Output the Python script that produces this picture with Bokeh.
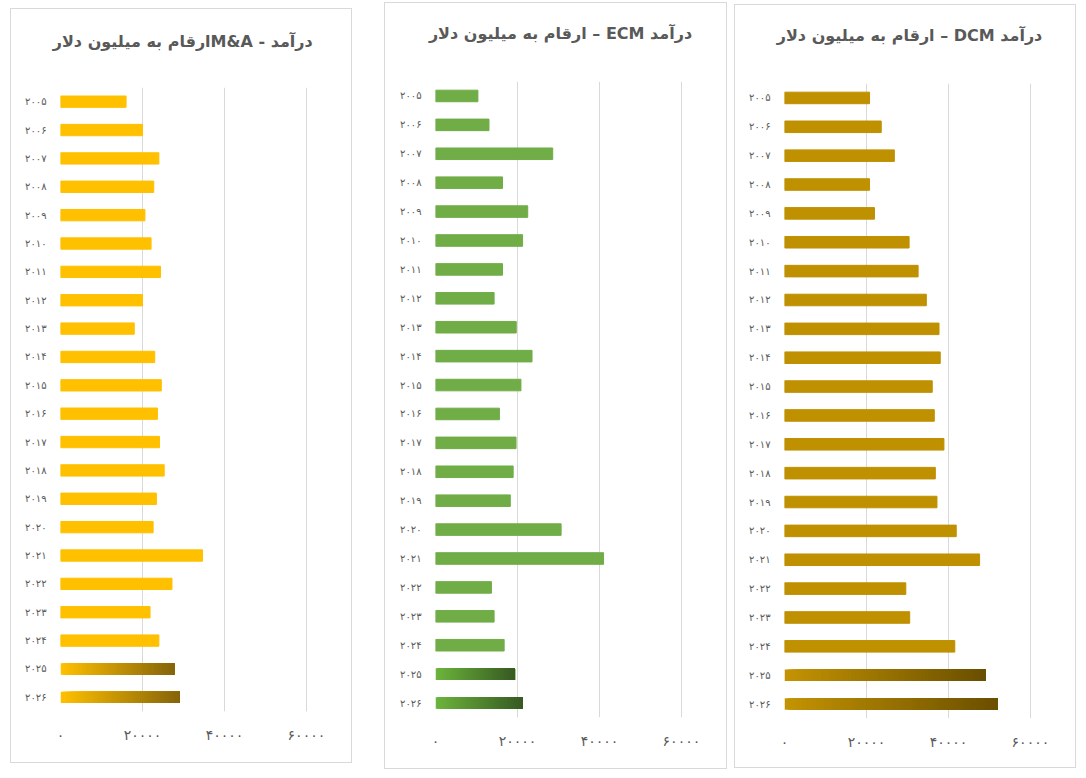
from bokeh.plotting import figure
from bokeh.models import Range1d, FactorRange, FixedTicker, Title
from bokeh.layouts import row
from bokeh.embed import file_html
from bokeh.resources import INLINE

years = ["۲۰۰۵", "۲۰۰۶", "۲۰۰۷", "۲۰۰۸", "۲۰۰۹", "۲۰۱۰", "۲۰۱۱", "۲۰۱۲",
         "۲۰۱۳", "۲۰۱۴", "۲۰۱۵", "۲۰۱۶", "۲۰۱۷", "۲۰۱۸", "۲۰۱۹", "۲۰۲۰",
         "۲۰۲۱", "۲۰۲۲", "۲۰۲۳", "۲۰۲۴", "۲۰۲۵", "۲۰۲۶"]
projected_years = ["۲۰۲۵", "۲۰۲۶"]

ma_values = [16000, 20000, 24000, 22750, 20600, 22100, 24400, 20000, 18000, 23000, 24600,
             23650, 24150, 25300, 23400, 22600, 34650, 27200, 21850, 24000, 27750, 29150]
ecm_values = [10350, 13050, 28600, 16350, 22500, 21250, 16350, 14300, 19700, 23550, 20850,
              15600, 19650, 18950, 18250, 30650, 41000, 13650, 14300, 16750, 19400, 21350]
dcm_values = [20750, 23600, 26800, 20750, 21950, 30400, 32600, 34600, 37700, 38000, 36050,
              36550, 38900, 36800, 37200, 41900, 47600, 29600, 30550, 41550, 49000, 51950]

x_ticks = [0, 20000, 40000, 60000]
x_tick_labels = ["۰", "۲۰۰۰۰", "۴۰۰۰۰", "۶۰۰۰۰"]

titles = {
    "ma": "\u202bدرآمد  - M&Aارقام به میلیون دلار\u202c",
    "ecm": "\u202bدرآمد ECM – ارقام به میلیون دلار\u202c",
    "dcm": "\u202bدرآمد DCM – ارقام به میلیون دلار\u202c",
}

TEXT = "#595959"
GRID = "#d9d9d9"


def hex2rgb(h):
    h = h.lstrip("#")
    return tuple(int(h[i:i + 2], 16) for i in (0, 2, 4))


def lerp(c1, c2, t):
    a, b = hex2rgb(c1), hex2rgb(c2)
    return "#%02x%02x%02x" % tuple(int(round(a[i] + (b[i] - a[i]) * t)) for i in range(3))


def panel(title, values, solid, g_start, g_end, b_left, b_top, f_h, b_bottom, margin, spacer):
    p = figure(y_range=FactorRange(*reversed(years)), x_range=Range1d(0, 61000),
               frame_width=248, frame_height=f_h,
               min_border_left=b_left, min_border_right=43,
               min_border_top=b_top, min_border_bottom=b_bottom,
               output_backend="svg", toolbar_location=None, title=title,
               margin=margin)
    p.styles = {"border": "1px solid #d9d9d9"}
    p.title.align = "center"
    p.title.text_font = "DejaVu Sans"
    p.title.text_font_size = "16px"
    p.title.text_font_style = "bold"
    p.title.text_color = TEXT
    p.title.standoff = 10
    p.add_layout(Title(text=" ", text_font_size="1px", standoff=spacer), "above")

    solid_y = [y for y in years if y not in projected_years]
    solid_v = [v for y, v in zip(years, values) if y not in projected_years]
    p.hbar(y=solid_y, left=0, right=solid_v, height=0.4, color=solid)

    n = 60
    for y, v in zip(years, values):
        if y in projected_years:
            lefts = [v * i / n for i in range(n)]
            rights = [v] * n
            cols = [lerp(g_start, g_end, i / (n - 1)) for i in range(n)]
            p.hbar(y=[y] * n, left=lefts, right=rights, height=0.4,
                   fill_color=cols, line_color=None)

    p.xaxis.ticker = FixedTicker(ticks=x_ticks)
    p.xaxis.major_label_overrides = dict(zip(x_ticks, x_tick_labels))
    p.xaxis.axis_line_color = None
    p.xaxis.major_tick_line_color = None
    p.xaxis.minor_tick_line_color = None
    p.xaxis.major_label_text_color = TEXT
    p.xaxis.major_label_text_font = "DejaVu Sans"
    p.xaxis.major_label_text_font_size = "14px"
    p.xaxis.major_label_standoff = 9

    p.yaxis.axis_line_color = None
    p.yaxis.major_tick_line_color = None
    p.yaxis.major_label_text_color = TEXT
    p.yaxis.major_label_text_font = "DejaVu Sans"
    p.yaxis.major_label_text_font_size = "10px"
    p.yaxis.major_label_standoff = 8

    p.ygrid.grid_line_color = None
    p.xgrid.grid_line_color = GRID
    p.xgrid.grid_line_width = 1
    p.outline_line_color = None
    p.background_fill_color = "white"
    p.border_fill_color = "white"
    return p


p1 = panel(titles["ma"], ma_values, "#FFC000", "#FFC000", "#86640a",
           49, 78, 622, 53, (8, 0, 0, 10), 29)
p2 = panel(titles["ecm"], ecm_values, "#70AD47", "#6cb43c", "#375a22",
           50, 77, 634, 54, (2, 0, 0, 32), 31)
p3 = panel(titles["dcm"], dcm_values, "#BF9000", "#c49303", "#6a4f00",
           49, 77, 633, 52, (4, 0, 0, 7), 31)

layout = row(p1, p2, p3)
open("out.html", "w").write(file_html(layout, INLINE))
